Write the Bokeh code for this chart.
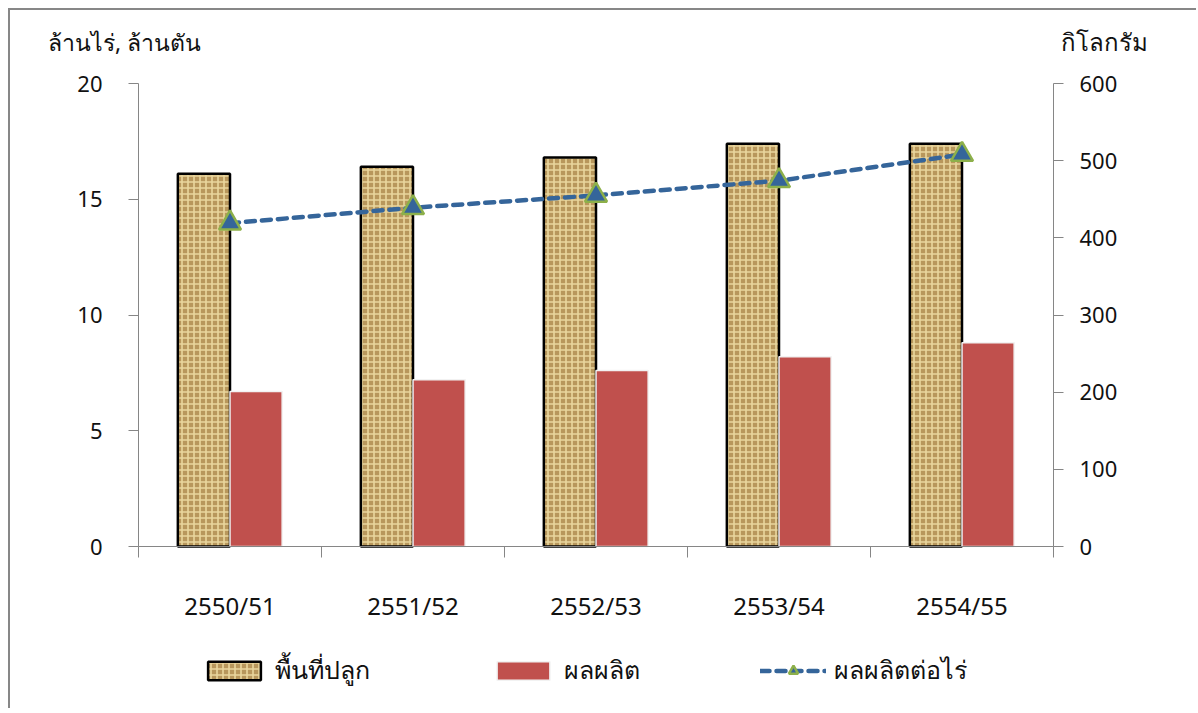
from bokeh.plotting import figure
from bokeh.models import (Range1d, LinearAxis, FixedTicker, ColumnDataSource,
                          Legend, LegendItem, Label)
from bokeh.transform import dodge
from bokeh.embed import file_html
from bokeh.resources import INLINE

# ---- data ----
categories = ["2550/51", "2551/52", "2552/53", "2553/54", "2554/55"]
area = [16.1, 16.4, 16.8, 17.4, 17.4]          # ล้านไร่
production = [6.7, 7.2, 7.6, 8.2, 8.8]         # ล้านตัน
yield_per_rai = [419, 439, 455, 474, 508]      # กิโลกรัม
left_ticks = [0, 5, 10, 15, 20]
right_ticks = [0, 100, 200, 300, 400, 500, 600]
left_title = "ล้านไร่, ล้านตัน"
right_title = "กิโลกรัม"
legend_labels = ["พื้นที่ปลูก", "ผลผลิต", "ผลผลิตต่อไร่"]

FONT = "Noto Sans"
AXIS_COLOR = "#868686"
TXT = "#111111"

# ---- layout (pixels inside the figure) ----
W, H = 1188, 700
AX_L, AX_R = 128, 1043        # left / right axis positions
AX_B, AX_T = 536, 73          # y=0 and y=max positions
n = len(categories)
LMAX, RMAX = left_ticks[-1], right_ticks[-1]
ppx = (AX_R - AX_L) / n
ppy = (AX_B - AX_T) / LMAX
x_rng = Range1d(-AX_L / ppx, n + (W - AX_R) / ppx)
y_rng = Range1d(-(H - AX_B) / ppy, AX_B / ppy)
k = RMAX / LMAX

xc = [i + 0.5 for i in range(n)]
src = ColumnDataSource(dict(x=xc, cat=categories, area=area,
                            prod=production, yld=yield_per_rai))

p = figure(width=W, height=H, output_backend="svg", toolbar_location=None,
           x_range=x_rng, y_range=y_rng, min_border=0)
p.title.visible = False
p.styles = {"margin-left": "8px", "margin-top": "8px",
            "border-left": "2px solid #878787", "border-top": "2px solid #878787"}
p.outline_line_color = None
p.grid.visible = False
p.extra_y_ranges = {"kg": Range1d(y_rng.start * k, y_rng.end * k)}

# x axis: labels at centres, ticks at boundaries (minor)
xa = p.xaxis[0]
xa.fixed_location = 0
xa.bounds = (0, n)
xa.ticker = FixedTicker(ticks=xc, minor_ticks=list(range(n + 1)))
xa.major_label_overrides = {x: c for x, c in zip(xc, categories)}
xa.major_tick_line_color = None
xa.minor_tick_out = 11
xa.minor_tick_in = 0
xa.minor_tick_line_color = AXIS_COLOR
xa.axis_line_color = AXIS_COLOR
xa.major_label_standoff = 31
xa.major_label_text_font = FONT
xa.major_label_text_font_size = "24px"
xa.major_label_text_color = TXT

# left axis
ya = p.yaxis[0]
ya.fixed_location = 0
ya.bounds = (0, LMAX)
ya.ticker = FixedTicker(ticks=left_ticks)
ya.major_tick_out = 10
ya.major_tick_in = 0
ya.minor_tick_line_color = None
ya.axis_line_color = AXIS_COLOR
ya.major_tick_line_color = AXIS_COLOR
ya.major_label_standoff = 26
ya.major_label_text_font = FONT
ya.major_label_text_font_size = "22px"
ya.major_label_text_color = TXT

# right axis
ra = LinearAxis(y_range_name="kg", ticker=FixedTicker(ticks=right_ticks),
                bounds=(0, RMAX), fixed_location=n)
ra.major_tick_out = 10
ra.major_tick_in = 0
ra.minor_tick_line_color = None
ra.axis_line_color = AXIS_COLOR
ra.major_tick_line_color = AXIS_COLOR
ra.major_label_standoff = 16
ra.major_label_text_font = FONT
ra.major_label_text_font_size = "22px"
ra.major_label_text_color = TXT
p.add_layout(ra, "right")

BW = 0.285
r_area = p.vbar(x=dodge("x", -BW / 2, range=p.x_range), top="area", width=BW,
                source=src, fill_color="#b8975c", line_color="black", line_width=2.5,
                hatch_pattern="+", hatch_color="#f2e0a8", hatch_alpha=0.85,
                hatch_scale=6, hatch_weight=1.6)
r_prod = p.vbar(x=dodge("x", BW / 2, range=p.x_range), top="prod", width=BW,
                source=src, fill_color="#c0504d", line_color="#f2f2f2", line_width=1.5)
r_line = p.line("x", "yld", source=src, y_range_name="kg", line_color="#35659a",
                line_width=4.5, line_dash="9 7", line_cap="round")
r_pts = p.scatter("x", "yld", source=src, y_range_name="kg", marker="triangle",
                  size=22, fill_color="#35659a", line_color="#8db04a", line_width=2.5)

legend = Legend(items=[
    LegendItem(label=legend_labels[0], renderers=[r_area]),
    LegendItem(label=legend_labels[1], renderers=[r_prod]),
    LegendItem(label=legend_labels[2], renderers=[r_line, r_pts]),
], orientation="horizontal", location=(191, 20), border_line_color=None,
    background_fill_alpha=0, label_text_font=FONT, label_text_font_size="25px",
    label_text_color=TXT, glyph_width=66, glyph_height=23, spacing=120,
    label_standoff=8, margin=0, padding=0)
p.add_layout(legend)

p.add_layout(Label(x=0, y=LMAX, y_offset=42, x_offset=-14, text=left_title,
                   text_align="center", text_baseline="middle", text_font=FONT,
                   text_font_size="23px", text_color=TXT))
p.add_layout(Label(x=n, y=LMAX, y_offset=42, x_offset=51, text=right_title,
                   text_align="center", text_baseline="middle", text_font=FONT,
                   text_font_size="24px", text_color=TXT))

open("out.html", "w").write(file_html(p, INLINE))
